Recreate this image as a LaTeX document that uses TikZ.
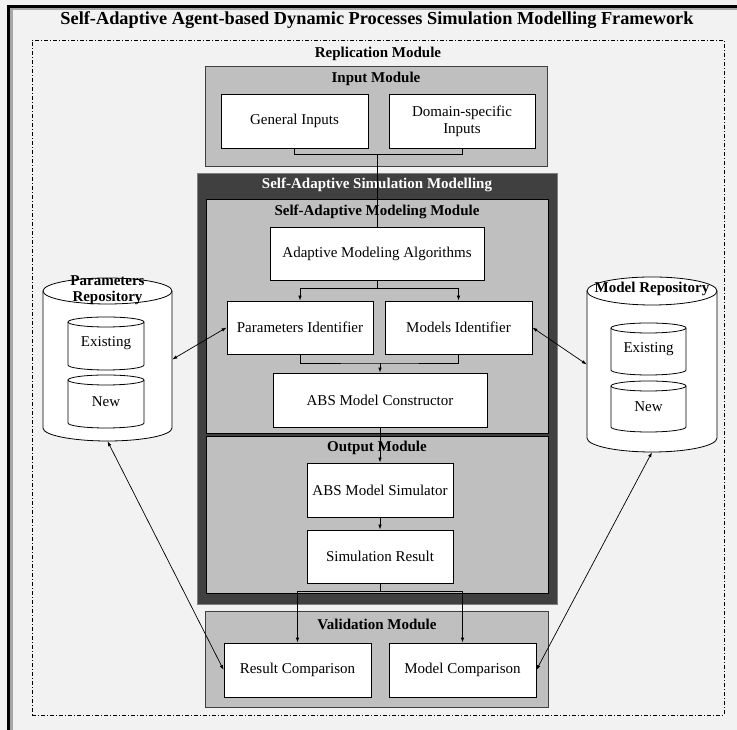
\documentclass[tikz,border=0pt]{standalone}
\usepackage{fontspec}
\setmainfont{Liberation Serif}
\usetikzlibrary{arrows.meta,calc}
\definecolor{bgc}{HTML}{F2F2F2}
\definecolor{modc}{HTML}{BFBFBF}
\definecolor{darkc}{HTML}{404040}
\definecolor{framegray}{HTML}{A6A6A6}
\newcommand\cylshape[5]{%
  \pgfmathsetmacro\cylrx{(#2-#1)/2}%
  \draw[fill=white,line width=0.8pt] (#1,#3-#5) -- (#1,#4+#5)
    arc[start angle=180,end angle=360,x radius=\cylrx pt,y radius=#5 pt]
    -- (#2,#3-#5)
    arc[start angle=0,end angle=180,x radius=\cylrx pt,y radius=#5 pt] -- cycle;
  \draw[line width=0.8pt] (#1,#3-#5)
    arc[start angle=180,end angle=360,x radius=\cylrx pt,y radius=#5 pt];}
\tikzset{
  wbox/.style={draw=black, fill=white, line width=0.8pt, align=center, inner sep=0pt,
    font=\fontsize{15}{17}\selectfont},
  txt/.style={align=center, inner sep=0pt, font=\fontsize{15}{17}\selectfont},
  lab/.style={inner sep=0pt, align=center, font=\bfseries\fontsize{15}{16}\selectfont},
  module/.style={draw=darkc, fill=modc, line width=1pt, inner sep=0pt},
  conn/.style={line width=0.7pt},
  arr/.style={conn, -{Latex[length=5pt,width=3.5pt]}},
  darr/.style={conn, {Latex[length=5pt,width=3.5pt]}-{Latex[length=5pt,width=3.5pt]}},
  ghost/.style={inner sep=0pt}
}
\begin{document}
\begin{tikzpicture}[x=1pt,y=1pt]
\useasboundingbox (0,0) rectangle (737,730);
\fill[bgc] (0,0) rectangle (737,730);
\draw[line width=3pt] (8.5,-10) -- (8.5,723.8) -- (750,723.8);
\draw[framegray, line width=2.5pt] (11.6,-10) -- (11.6,721.2) -- (750,721.2);
% title
\node[inner sep=0pt, font=\bfseries\fontsize{18.3}{20}\selectfont] (title) at (377,710)
  {Self-Adaptive Agent-based Dynamic Processes Simulation Modelling Framework};
% replication frame
\node[draw, line width=0.7pt, dash pattern=on 4pt off 2pt on 1pt off 2pt,
  minimum width=692pt, minimum height=675pt, inner sep=0pt] (repl) at (378,352.5) {};
\node[lab] (repllab) at (378,676) {Replication Module};
% input module
\node[module, minimum width=342pt, minimum height=100pt] (inmod) at (376,613) {};
\node[lab] (inlab) at (376,651) {Input Module};
\node[wbox, minimum width=147pt, minimum height=54pt] (gi) at (294.5,609) {General Inputs};
\node[wbox, minimum width=146pt, minimum height=54pt] (ds) at (462,609) {Domain-specific\\Inputs};
% self-adaptive simulation modelling
\node[draw=gray, fill=darkc, line width=0.6pt, minimum width=360pt, minimum height=431pt, inner sep=0pt] (sasm) at (377,341.5) {};
\node[lab, text=white] (sasmlab) at (377,545) {Self-Adaptive Simulation Modelling};
\node[draw=black, fill=modc, line width=0.8pt, minimum width=342pt, minimum height=234pt, inner sep=0pt] (samm) at (377,414) {};
\node[lab] (sammlab) at (377,518) {Self-Adaptive Modeling Module};
\node[wbox, minimum width=214pt, minimum height=53pt] (ama) at (377,476.5) {Adaptive Modeling Algorithms};
\node[wbox, minimum width=146pt, minimum height=53pt] (pi) at (300,402.5) {Parameters Identifier};
\node[wbox, minimum width=147pt, minimum height=53pt] (mi) at (458.5,402.5) {Models Identifier};
\node[wbox, minimum width=214pt, minimum height=54pt] (amc) at (380,330) {ABS Model Constructor};
\node[draw=black, fill=modc, line width=0.8pt, minimum width=342pt, minimum height=157pt, inner sep=0pt] (outmod) at (377,215.5) {};
\node[lab] (outlab) at (377,282) {Output Module};
\node[wbox, minimum width=146pt, minimum height=54pt] (sim) at (380,240) {ABS Model Simulator};
\node[wbox, minimum width=146pt, minimum height=53pt] (res) at (380,173.5) {Simulation Result};
% validation
\node[module, minimum width=343pt, minimum height=96pt] (valmod) at (376.5,70) {};
\node[lab] (vallab) at (377,106) {Validation Module};
\node[wbox, minimum width=147pt, minimum height=54pt] (rc) at (297.5,60) {Result Comparison};
\node[wbox, minimum width=147pt, minimum height=54pt] (mc) at (462.5,60) {Model Comparison};
% repositories
\node[ghost, minimum width=129pt, minimum height=163pt] (pr) at (107.5,370.5) {};
\node[ghost, minimum width=130pt, minimum height=175pt] (mr) at (652,365.5) {};
\cylshape{43}{172}{452}{289}{13}
\cylshape{68}{144}{413}{360}{5}
\cylshape{68}{144}{355}{302}{5}
\cylshape{587}{717}{453}{278}{14}
\cylshape{611}{686}{407}{355}{5}
\cylshape{611}{686}{349}{298}{5}
\node[lab] (prlab) at (107.5,440) {Parameters\\Repository};
\node[txt] (pre) at (106,386.5) {Existing};
\node[txt] (prn) at (106,328.5) {New};
\node[lab] (mrlab) at (652,441) {Model Repository};
\node[txt] (mre) at (648.5,381) {Existing};
\node[txt] (mrn) at (648.5,323.5) {New};
% connectors
\coordinate (j1) at (377,576);
\coordinate (j2) at (377,442);
\coordinate (j3) at (380,367);
\coordinate (j4) at (380,139);
\draw[conn] (gi.south) |- (j1) -| (ds.south);
\draw[conn] (j1) -- (ama.north);
\draw[conn] (ama.south) -- (j2);
\draw[arr] (j2) -| (pi.north);
\draw[arr] (j2) -| (mi.north);
\draw[conn] (pi.south) |- (j3) -| (mi.south);
\draw[arr] (j3) -- (amc.north);
\draw[arr] (amc.south) -- (sim.north);
\draw[arr] (sim.south) -- (res.north);
\draw[conn] (res.south) -- (j4);
\draw[arr] (j4) -| (rc.north);
\draw[arr] (j4) -| (mc.north);
\draw[darr] (pi.west) -- (pr.east);
\draw[darr] (mi.east) -- (mr.west);
\draw[darr] (pr.south) -- (rc.west);
\draw[darr] (mr.south) -- (mc.east);
\end{tikzpicture}
\end{document}
